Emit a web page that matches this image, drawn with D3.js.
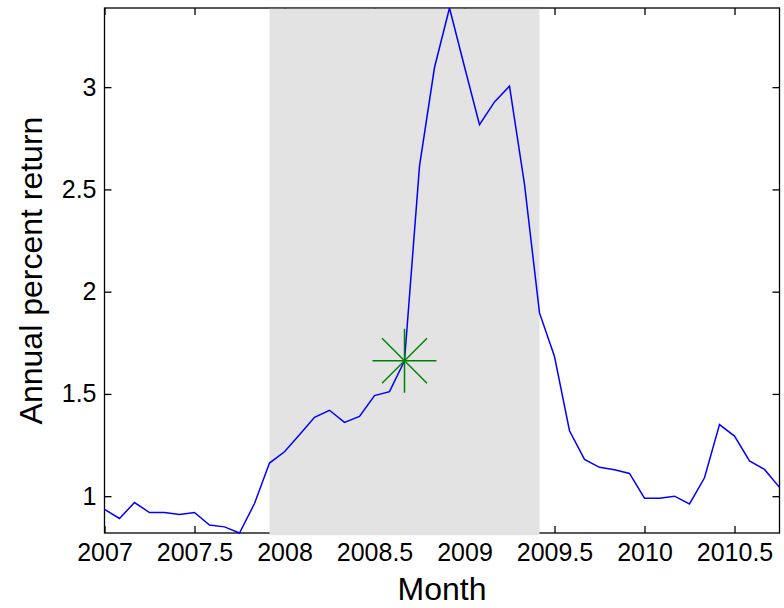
<!DOCTYPE html>
<html>
<head>
<meta charset="utf-8">
<script src="https://cdn.jsdelivr.net/npm/d3@7/dist/d3.min.js"></script>
<style>
  html, body { margin: 0; padding: 0; background: #fff; }
  svg { display: block; }
  text { font-family: Arial, "Liberation Sans", Helvetica, sans-serif; fill: #000; }
</style>
</head>
<body>
<svg id="chart" width="784" height="608"></svg>
<script>
// ---- data ----
const months = [
  "2007-01","2007-02","2007-03","2007-04","2007-05","2007-06","2007-07","2007-08","2007-09","2007-10","2007-11","2007-12",
  "2008-01","2008-02","2008-03","2008-04","2008-05","2008-06","2008-07","2008-08","2008-09","2008-10","2008-11","2008-12",
  "2009-01","2009-02","2009-03","2009-04","2009-05","2009-06","2009-07","2009-08","2009-09","2009-10","2009-11","2009-12",
  "2010-01","2010-02","2010-03","2010-04","2010-05","2010-06","2010-07","2010-08","2010-09","2010-10"
];
const returns = [
  0.936, 0.891, 0.969, 0.920, 0.920, 0.910, 0.920, 0.859, 0.850, 0.820, 0.964, 1.162,
  1.217, 1.300, 1.386, 1.420, 1.361, 1.390, 1.492, 1.511, 1.662, 2.614, 3.096, 3.387,
  3.100, 2.817, 2.928, 3.005, 2.525, 1.896, 1.683, 1.320, 1.180, 1.141, 1.129, 1.111,
  0.990, 0.990, 1.000, 0.962, 1.090, 1.350, 1.294, 1.172, 1.131, 1.043
];
const recessionStart = "2007-12";
const recessionEnd = "2009-06";
const eventMonth = "2008-09";
const xTicks = [2007, 2007.5, 2008, 2008.5, 2009, 2009.5, 2010, 2010.5];
const yTicks = [1, 1.5, 2, 2.5, 3];
const xLabel = "Month";
const yLabel = "Annual percent return";

// ---- helpers ----
function toYear(m) {
  const [y, mo] = m.split("-").map(Number);
  return y + (mo - 1) / 12;
}
const data = months.map((m, i) => ({ x: toYear(m), y: returns[i] }));

// ---- layout ----
const svg = d3.select("#chart");
const L = 104.5, T = 8, W = 675, H = 525;
const x = d3.scaleLinear().domain(d3.extent(data, d => d.x)).range([L, L + W]);
const y = d3.scaleLinear().domain(d3.extent(data, d => d.y)).range([T + H, T]);

const tickLen = 7;
const fmt = d => String(d);
const tickFont = 25;

// frame
const g = svg.append("g");
g.append("rect").attr("x", L).attr("y", T).attr("width", W).attr("height", H)
  .attr("fill", "none").attr("stroke", "#000").attr("stroke-width", 1.3);

// ticks with d3 axes (inside)
const axB = g.append("g").attr("transform", `translate(0,${T + H})`)
  .call(d3.axisBottom(x).tickValues(xTicks).tickSizeInner(-tickLen).tickSizeOuter(0).tickPadding(10).tickFormat(fmt));
const axT = g.append("g").attr("transform", `translate(0,${T})`)
  .call(d3.axisTop(x).tickValues(xTicks).tickSizeInner(-tickLen).tickSizeOuter(0).tickFormat(""));
const axL = g.append("g").attr("transform", `translate(${L},0)`)
  .call(d3.axisLeft(y).tickValues(yTicks).tickSizeInner(-tickLen).tickSizeOuter(0).tickPadding(8).tickFormat(fmt));
const axR = g.append("g").attr("transform", `translate(${L + W},0)`)
  .call(d3.axisRight(y).tickValues(yTicks).tickSizeInner(-tickLen).tickSizeOuter(0).tickFormat(""));
[axB, axT, axL, axR].forEach(a => {
  a.select(".domain").remove();
  a.selectAll(".tick line").attr("stroke", "#000").attr("stroke-width", 1.3);
  a.selectAll("text").attr("font-size", tickFont).attr("font-family", "Arial, 'Liberation Sans', sans-serif").attr("fill", "#000");
});
axB.selectAll("text").attr("dy", "0.71em");

// recession patch (drawn over axes, as in original)
const rx0 = x(toYear(recessionStart)), rx1 = x(toYear(recessionEnd));
svg.append("rect").attr("x", rx0).attr("y", T + 0.7).attr("width", rx1 - rx0).attr("height", H + 1.5)
  .attr("fill", "#e3e3e3");
svg.append("line").attr("x1", rx0).attr("x2", rx1).attr("y1", T).attr("y2", T)
  .attr("stroke", "#555").attr("stroke-width", 1);

// line
svg.append("path").datum(data)
  .attr("fill", "none").attr("stroke", "#0000ff").attr("stroke-width", 1.5)
  .attr("d", d3.line().x(d => x(d.x)).y(d => y(d.y)));

// star marker
const ev = data[months.indexOf(eventMonth)];
const cx = x(ev.x), cy = y(ev.y), r = 32, rd = 22.5;
const star = svg.append("g").attr("stroke", "#008000").attr("stroke-width", 1.5);
[[-r, 0, r, 0], [0, -r, 0, r], [-rd, -rd, rd, rd], [-rd, rd, rd, -rd]].forEach(s => {
  star.append("line").attr("x1", cx + s[0]).attr("y1", cy + s[1]).attr("x2", cx + s[2]).attr("y2", cy + s[3]);
});

// axis titles
svg.append("text").attr("x", L + W / 2).attr("y", 600).attr("text-anchor", "middle")
  .attr("font-size", 32).text(xLabel);
svg.append("text").attr("transform", `translate(42,${T + H / 2}) rotate(-90)`)
  .attr("text-anchor", "middle").attr("font-size", 32).text(yLabel);
</script>
</body>
</html>
